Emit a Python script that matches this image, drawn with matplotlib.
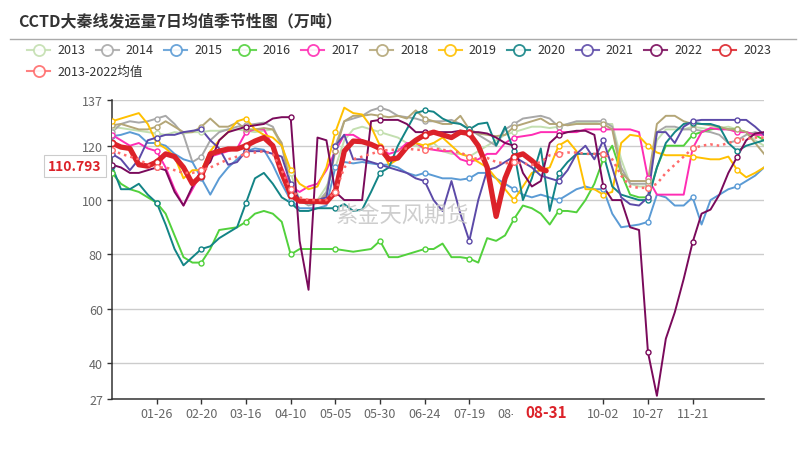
import numpy as np
import pandas as pd
import matplotlib
matplotlib.use("Agg")
import matplotlib.pyplot as plt
from matplotlib.lines import Line2D

plt.rcParams['font.family'] = ['Noto Sans CJK SC', 'DejaVu Sans']

# day index in a leap-year calendar (0 = 01-01), sampled every 5 days
days = np.arange(0, 366, 5)

v2013 = [127, 126.5, 126, 125.5, 125, 124.5, 124, 125, 124.5, 125,
         125, 125.5, 125.5, 126, 126, 125.5, 125, 125.5, 126, 120,
         110, 100, 99, 100, 105, 112, 122, 126, 127, 126,
         125, 124, 123, 121, 120, 119, 121, 118, 117, 117,
         116, 118, 120, 122, 124, 125, 126, 127, 127, 126.5,
         127, 128, 128.5, 128.5, 128.5, 128, 128, 115, 106, 105,
         105, 122, 126, 126, 126, 127, 126.5, 126, 126.5, 127,
         126, 125, 122, 120]
v2014 = [125, 128, 129, 128.5, 129, 130, 131, 128, 124, 114,
         116, 122, 125, 126, 127, 127.5, 128, 128.5, 127, 120,
         105, 100, 98, 99, 103, 120, 129, 130, 131, 133,
         134, 133, 131, 130.5, 130, 129, 129, 129, 129.5, 128,
         126, 124, 122, 120, 126, 128, 130, 130.5, 131, 130,
         127, 128, 129, 129, 129, 129, 127, 112, 106, 106,
         106, 125, 127, 127, 126, 126, 125.5, 125, 124, 121,
         122, 124, 125, 124]
v2015 = [123.5, 124, 125, 124, 121, 121, 120, 117, 115, 114,
         108, 102, 108, 112, 115, 118, 119, 118.5, 113, 106,
         100, 97, 97, 97, 98, 112, 114, 113.5, 114, 113.5,
         113, 113, 112, 110, 109, 110, 109, 108, 108, 107.5,
         108, 110, 110, 108, 106, 104, 102, 101, 102, 101,
         100, 102, 104, 105, 104, 104, 95, 90, 90.5, 91,
         92, 102, 101, 98, 98, 101, 91, 100, 102, 104,
         105, 107, 109, 112]
v2016 = [110, 106, 104, 103, 101, 99, 95, 87, 79, 77,
         77, 82, 89, 89.5, 90, 92, 95, 96, 95, 92,
         80, 82, 82, 82, 82, 82, 81.5, 81, 81.5, 82,
         85, 79, 79, 80, 81, 82, 82, 84, 79, 79,
         78.5, 77, 86, 85, 87, 93, 98, 97, 95, 91,
         96, 96, 95.5, 100, 106, 115, 120, 110, 102, 101,
         101, 112, 120, 120, 120, 124, 125, 126, 126.5, 126,
         126, 125, 124, 122]
v2017 = [124, 122, 120, 121, 119, 118, 112, 104, 98, 104,
         110, 116, 117, 118, 119, 125, 126, 126, 120, 112,
         105, 103, 105, 106, 111, 118, 124, 124, 122, 120,
         119, 117, 118, 121, 121, 119, 118.5, 118, 118, 115,
         114, 115, 117, 117, 121, 123, 123.5, 124, 125, 125,
         125, 125, 125, 126, 126, 126, 126, 126, 126, 125,
         108, 102, 102, 102, 102, 119, 125, 126.5, 126, 126,
         125, 125, 124, 124]
v2018 = [127.5, 128, 127, 126, 126, 127, 129, 127, 125, 125,
         127, 130, 127, 127, 128.5, 126, 126, 126.5, 126, 121,
         105, 100, 99, 99, 102, 118, 129, 131, 131, 131.5,
         131, 130.5, 131, 130, 133, 130, 129, 128, 128, 131,
         126, 124.5, 124, 123.5, 124, 127, 128, 129, 130, 128,
         128, 127.5, 128, 128, 128, 128, 126, 110, 107, 107,
         107, 128, 131, 131, 129, 128, 128, 127.5, 127, 126,
         126, 125, 121, 117]
v2019 = [129, 130, 131, 132, 128, 121, 119, 116, 108, 111,
         111, 118, 122, 125, 129, 130, 126, 124, 123, 120,
         111, 106, 104, 105, 112, 125, 134, 132, 131.5, 127,
         120, 113, 115, 119, 121, 120, 121, 123, 120, 117,
         116, 114, 112, 108, 104, 100, 105, 110, 111, 112,
         120, 122, 118, 104, 104, 102, 103, 121, 124, 123.5,
         120, 117.5, 116.5, 116.5, 116.5, 116, 115.5, 115, 115, 116,
         111, 108.4, 110, 112]
v2020 = [112.5, 104, 104, 106, 102, 99, 91, 82, 76, 79,
         82, 83, 86, 88, 90, 99, 108, 110, 106, 101,
         99, 96, 96, 97, 97, 97, 98.5, 96, 96.5, 103,
         110, 112, 120, 126, 132, 133, 132.5, 130, 128.5, 128,
         126, 128, 128.5, 120, 127, 118, 100, 108, 119, 96,
         110, 114, 117, 117, 117, 117, 105, 102, 101, 100,
         100, 112, 121, 125, 128, 128.5, 128, 128, 127, 121,
         118, 120, 121, 122]
v2021 = [117, 115, 111, 115, 122, 123, 124, 124, 125, 125.5,
         126, 122, 119, 113, 114, 118, 118, 118, 117, 116,
         106, 100, 99, 100, 101, 120, 124, 115, 115, 114,
         113, 112, 111, 110, 108, 107, 100, 96, 107, 95,
         85, 100, 111, 112, 114, 116, 114, 112, 109, 108,
         107, 111, 117, 120, 115, 122, 112, 101, 98.5, 98,
         101, 125, 125, 121, 127, 129, 129.5, 129.5, 129.5, 129.5,
         129.5, 129.5, 127, 124]
v2022 = [113, 112, 110, 110, 111, 112, 111, 103, 98, 105,
         111, 114, 122, 125, 126, 127, 127.5, 128, 130, 130.5,
         130.5, 85, 67, 123, 122, 103, 100, 100, 100, 129,
         129.5, 129.5, 129.5, 128, 125, 125, 125, 125, 125, 125.5,
         125, 125, 124.5, 123, 121, 120, 110, 105, 107, 121,
         124, 125, 125.5, 125.5, 124, 105, 100, 100, 90, 89,
         44, 28, 49, 58.7, 71, 84.5, 95, 96.5, 102, 110,
         116, 122, 124.5, 125]

# 2023 stops at 08-31
d2023 = list(range(0, 241, 5)) + [243]
v2023 = [121, 119.5, 119, 113, 112.5, 114, 117, 116, 112, 106,
         109, 117, 118, 118.8, 118.8, 120, 121.7, 123, 120, 110,
         102, 99.6, 99.5, 99.5, 99.3, 103, 118, 121.7, 121.5, 120.5,
         119, 115, 115.5, 119.5, 122, 124, 125, 124, 123, 125,
         124.5, 120, 112, 94, 108, 116, 117, 114.5, 111.5, 110.793]

vmean = [118.5, 117, 116, 115, 113, 112, 112, 111, 110, 110,
         111, 112, 113.5, 115, 116, 117, 117.5, 118, 117, 111,
         104, 101, 100, 100, 100, 103, 112, 115, 116, 117,
         118, 118.5, 118.5, 119, 118.5, 118.5, 119, 118.5, 118, 117.5,
         116, 115, 115.5, 114, 113.5, 114, 113.5, 113, 114, 116.5,
         117, 117.5, 117.5, 117, 117, 117, 115, 109, 105, 104.5,
         104.5, 106, 110, 113, 116, 119, 120, 120.5, 120, 121,
         122, 122.5, 123, 123]

years = ["2013", "2014", "2015", "2016", "2017", "2018", "2019", "2020", "2021", "2022"]
values = [v2013, v2014, v2015, v2016, v2017, v2018, v2019, v2020, v2021, v2022]
colors = ["#c3dfb0", "#a8a8a8", "#5b9bd5", "#52d13c", "#ff2db4", "#b4a677",
          "#ffc000", "#138486", "#5c4aa8", "#7a0a5b"]
c2023 = "#dc2229"
cmean = "#ff6b6b"

dates = pd.date_range("2020-01-01", periods=366)
tick_pos = list(range(25, 326, 25))
# the 09-07 label sits under the 08-31 pointer label in the original
tick_lab = ["" if i == 250 else dates[i].strftime("%m-%d") for i in tick_pos]

fig = plt.figure(figsize=(8.06, 4.6), dpi=100)
ax = fig.add_axes([0.139, 0.1315, 0.809, 0.650])

mk = days % 25 == 0
for y, v, c in zip(years, values, colors):
    v = np.array(v, dtype=float)
    ax.plot(days, v, color=c, lw=1.4, zorder=2, solid_joinstyle="round")
    ax.plot(days[mk], v[mk], "o", ms=3.6, mfc="white", mec=c, mew=1.0, zorder=3)

d23 = np.array(d2023)
v23 = np.array(v2023)
ax.plot(d23, v23, color=c2023, lw=3.8, zorder=5, solid_joinstyle="round", solid_capstyle="round")
m23 = d23 % 25 == 0
ax.plot(d23[m23], v23[m23], "o", ms=4.4, mfc="white", mec=c2023, mew=1.3, zorder=6)

vm = np.array(vmean)
ax.plot(days, vm, color=cmean, lw=1.8, ls=(0, (1, 1.6)), zorder=7)
ax.plot(days[mk], vm[mk], "o", ms=4.0, mfc="white", mec=cmean, mew=1.0, zorder=8)

ax.set_xlim(0, 365)
ax.set_ylim(27, 137)
ax.set_yticks([27, 40, 60, 80, 100, 120, 137])
ax.set_xticks(tick_pos)
ax.set_xticklabels(tick_lab)
ax.grid(axis="y", color="#cccccc", lw=1)
ax.set_axisbelow(True)
for s in ["top", "right"]:
    ax.spines[s].set_visible(False)
for s in ["left", "bottom"]:
    ax.spines[s].set_color("#333333")
    ax.spines[s].set_linewidth(1.1)
ax.tick_params(axis="both", colors="#333333", labelcolor="#666666", labelsize=9,
               length=3.6, width=1)
ax.tick_params(axis="x", pad=2.5)
ax.tick_params(axis="y", pad=3)

# axis pointer labels
ax.annotate("08-31", xy=(243, 0), xycoords=("data", "axes fraction"),
            xytext=(0, -9.6), textcoords="offset points", ha="center", va="center",
            fontsize=11, fontweight="bold", color=c2023, zorder=2,
            bbox=dict(boxstyle="square,pad=0.78", fc="white", ec="none"))
ax.annotate("110.793", xy=(0, 110.793), xycoords=("axes fraction", "data"),
            xytext=(-26.8, 3.4), textcoords="offset points", ha="center", va="center",
            fontsize=10, fontweight="bold", color=c2023, annotation_clip=False,
            bbox=dict(boxstyle="square,pad=0.32", fc="white", ec="#cccccc", lw=0.8))

# watermark
fig.text(402 / 806, 1 - 216 / 460, "紫金天风期货", fontsize=16, color="#c9c9c9",
         ha="center", va="center", alpha=0.9)

# title and rule
fig.text(18 / 806, 1 - 21 / 460, "CCTD大秦线发运量7日均值季节性图（万吨）",
         fontsize=11.5, fontweight="bold", color="#333333", va="center")
fig.add_artist(Line2D([10 / 806, 796 / 806], [1 - 40 / 460, 1 - 40 / 460],
                      transform=fig.transFigure, color="#aaaaaa", lw=1))

# legend drawn by hand, two rows like the original
leg_names = years + ["2023", "2013-2022均值"]
leg_cols = colors + [c2023, cmean]
for k, (name, c) in enumerate(zip(leg_names, leg_cols)):
    if k < 11:
        x0 = 27 + k * 68.6
        yy = 51
    else:
        x0 = 27
        yy = 72
    fy = 1 - yy / 460
    fig.add_artist(Line2D([x0 / 806, (x0 + 23) / 806], [fy, fy], transform=fig.transFigure,
                          color=c, lw=1.5, alpha=0.85))
    fig.add_artist(Line2D([(x0 + 11.5) / 806], [fy], transform=fig.transFigure,
                          marker="o", ms=8, mfc="white", mec=c, mew=1.3, alpha=0.9))
    fig.text((x0 + 30) / 806, fy, name, fontsize=9, color="#333333", va="center")

fig.savefig("out.png", dpi=100, facecolor="white")
